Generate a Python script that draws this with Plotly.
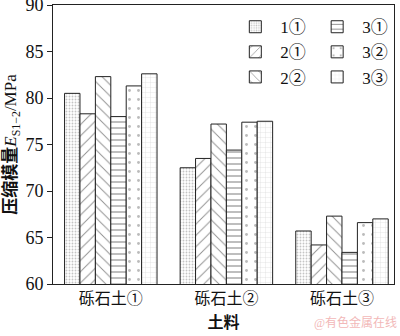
import plotly.graph_objects as go

categories = ["砾石土①", "砾石土②", "砾石土③"]
series_names = ["1①", "2①", "2②", "3①", "3②", "3③"]
values_1_1 = [80.5, 72.5, 65.7]
values_2_1 = [78.3, 73.5, 64.2]
values_2_2 = [82.3, 77.2, 67.3]
values_3_1 = [78.0, 74.4, 63.4]
values_3_2 = [81.3, 77.4, 66.6]
values_3_3 = [82.6, 77.5, 67.0]
y_ticks = [60, 65, 70, 75, 80, 85, 90]

series_values = [values_1_1, values_2_1, values_2_2, values_3_1, values_3_2, values_3_3]
patterns = [
    dict(shape=".", size=3, solidity=0.3, fgcolor="#8a8a8a"),
    dict(shape="/", size=8, solidity=0.12, fgcolor="#222222"),
    dict(shape="\\", size=8, solidity=0.12, fgcolor="#222222"),
    dict(shape="-", size=6, solidity=0.2, fgcolor="#222222"),
    dict(shape=".", size=9, solidity=0.08, fgcolor="#777777"),
    dict(shape="+", size=5, solidity=0.12, fgcolor="#aaaaaa"),
]
legend_ids = ["legend", "legend", "legend", "legend2", "legend2", "legend2"]

FONT = "Liberation Serif, Times New Roman, Noto Sans CJK SC"

fig = go.Figure()
for name, vals, pat, lg in zip(series_names, series_values, patterns, legend_ids):
    fig.add_trace(go.Bar(
        x=categories, y=vals, name=name, legend=lg,
        marker=dict(color="white", line=dict(color="#222222", width=1),
                    pattern=dict(fillmode="overlay", bgcolor="white", **pat)),
    ))

legend_style = dict(font=dict(family=FONT, size=17, color="#111111"),
                    bgcolor="rgba(0,0,0,0)", itemwidth=40, tracegroupgap=0,
                    yanchor="top", xanchor="left")

fig.update_layout(
    width=400, height=336,
    margin=dict(l=53, r=6, t=5, b=52),
    paper_bgcolor="white", plot_bgcolor="white",
    bargap=0.2, bargroupgap=0,
    font=dict(family=FONT, color="#111111"),
    legend=dict(x=0.52, y=0.985, **legend_style),
    legend2=dict(x=0.76, y=0.985, **legend_style),
    xaxis=dict(range=[-0.5, 2.45], showline=True, linecolor="#222222", linewidth=1,
               mirror=True, ticks="", tickfont=dict(size=16, family=FONT), automargin=False,
               title=dict(text="<b>土料</b>", font=dict(size=16, family=FONT), standoff=10)),
    yaxis=dict(range=[60, 90], tickvals=y_ticks, showline=True, linecolor="#222222",
               linewidth=1, mirror=True, ticks="outside", ticklen=5, tickcolor="#222222",
               ticklabeloverflow="allow", automargin=False,
               showgrid=False, zeroline=False, tickfont=dict(size=18, family=FONT),
               title=dict(text="<b>压缩模量</b><i>E</i><sub>S1−2</sub>/MPa",
                          font=dict(size=17, family=FONT), standoff=6)),
)

fig.add_annotation(text="@有色金属在线", xref="paper", yref="paper", x=1.015, y=-0.137,
                   xanchor="right", yanchor="middle", showarrow=False,
                   font=dict(size=12, color="#f2b8b8", family=FONT))

fig.write_html("out.html")
